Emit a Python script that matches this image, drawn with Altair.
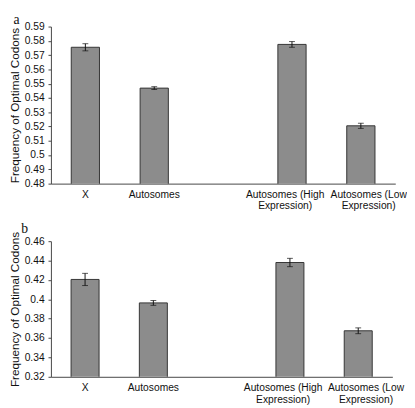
import altair as alt
import pandas as pd

categories = ["X", "Autosomes", "gap", "Autosomes (High|Expression)", "Autosomes (Low|Expression)"]
bar_cats = ["X", "Autosomes", "Autosomes (High|Expression)", "Autosomes (Low|Expression)"]

a_values = [0.5755, 0.5469, 0.5775, 0.5205]
a_errors = [0.0025, 0.0010, 0.0020, 0.0018]
b_values = [0.4205, 0.3963, 0.4380, 0.3675]
b_errors = [0.0063, 0.0025, 0.0043, 0.0030]

a_ticks = [0.48, 0.49, 0.50, 0.51, 0.52, 0.53, 0.54, 0.55, 0.56, 0.57, 0.58, 0.59]
b_ticks = [0.32, 0.34, 0.36, 0.38, 0.40, 0.42, 0.44, 0.46]

FONT = "Liberation Sans"


def panel(letter, values, errors, ticks, width, height, letter_dx):
    df = pd.DataFrame({
        "cat": bar_cats,
        "v": values,
        "lo": [v - e for v, e in zip(values, errors)],
        "hi": [v + e for v, e in zip(values, errors)],
    })
    xscale = alt.Scale(domain=categories, paddingInner=0.59, paddingOuter=0.295)
    xaxis = alt.Axis(
        title=None,
        labelAngle=0,
        ticks=False,
        labelExpr="datum.label == 'gap' ? '' : split(datum.label, '|')",
        labelOffset={"expr": "indexof(datum.value, 'High') >= 0 ? -7 : (indexof(datum.value, 'Low') >= 0 ? 8 : 0)"},
        labelFont=FONT,
        labelFontSize=10.5,
        labelColor="#111",
        labelPadding=6,
        labelOverlap=False,
        labelBound=False,
        domainColor="#444",
        labelLineHeight=12,
    )
    x = alt.X("cat:N", sort=categories, scale=xscale, axis=xaxis)
    yscale = alt.Scale(domain=[ticks[0], ticks[-1]], nice=False, zero=False)
    yaxis = alt.Axis(
        title="Frequency of Optimal Codons",
        values=ticks,
        format=".2~f",
        grid=False,
        tickSize=3,
        tickColor="#444",
        domainColor="#444",
        labelFont=FONT,
        labelFontSize=10.5,
        labelColor="#111",
        labelOverlap=False,
        labelFlush=False,
        labelPadding=4,
        titleFont=FONT,
        titleFontSize=12,
        titleFontWeight="normal",
        titleColor="#111",
        titlePadding=3,
    )

    def Y(field):
        return alt.Y(field, scale=yscale, axis=yaxis, title="Frequency of Optimal Codons")

    bars = alt.Chart(df).mark_bar(fill="#8c8c8c", stroke="#333", strokeWidth=1, clip=True).encode(
        x=x, y=Y("v:Q"), y2=alt.value(height)
    )
    rule = alt.Chart(df).mark_rule(color="#111", strokeWidth=1).encode(
        x=x, y=Y("lo:Q"), y2="hi:Q"
    )
    cap_lo = alt.Chart(df).mark_tick(color="#111", thickness=1, size=6, orient="horizontal").encode(
        x=x, y=Y("lo:Q")
    )
    cap_hi = alt.Chart(df).mark_tick(color="#111", thickness=1, size=6, orient="horizontal").encode(
        x=x, y=Y("hi:Q")
    )
    return alt.layer(bars, rule, cap_lo, cap_hi).properties(
        width=width,
        height=height,
        title=alt.TitleParams(letter, anchor="start", font="Liberation Serif", fontSize=14,
                              fontWeight="normal", color="#111", offset=-5, dx=letter_dx),
    )


chart = alt.vconcat(
    panel("a", a_values, a_errors, a_ticks, 353, 161, 5),
    panel("b", b_values, b_errors, b_ticks, 350, 139, 13),
    spacing=10,
).properties(padding={"left": 0, "top": 0, "right": 0, "bottom": 0}).configure_view(stroke=None)

chart.save("out.html", embed_options={"renderer": "svg", "actions": False})
